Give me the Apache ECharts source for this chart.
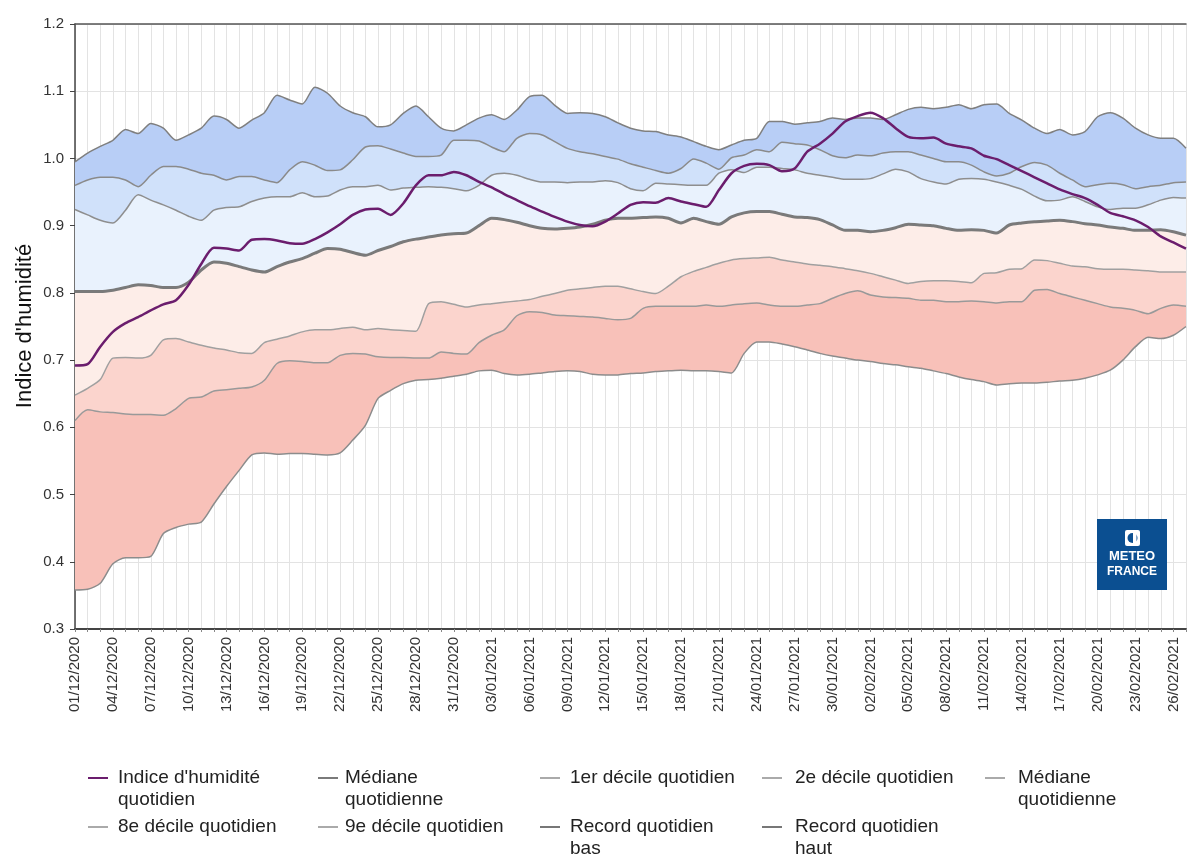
<!DOCTYPE html>
<html>
<head>
<meta charset="utf-8">
<script src="https://cdn.jsdelivr.net/npm/echarts@6/dist/echarts.min.js"></script>
<style>html,body{margin:0;padding:0;background:#fff}#c{width:1187px;height:857px}</style>
</head>
<body>
<div id="c"></div>
<script>
// Categories: daily dates 01/12/2020 .. 27/02/2021
const categories = (function(){
  const out = []; const d = new Date(Date.UTC(2020, 11, 1));
  for (let k = 0; k < 89; k++) {
    const dd = String(d.getUTCDate()).padStart(2,'0');
    const mm = String(d.getUTCMonth()+1).padStart(2,'0');
    out.push(dd + '/' + mm + '/' + d.getUTCFullYear());
    d.setUTCDate(d.getUTCDate()+1);
  }
  return out;
})();

const yTicks = [0.3, 0.4, 0.5, 0.6, 0.7, 0.8, 0.9, 1.0, 1.1, 1.2];

const indice = [0.692,0.694,0.72,0.742,0.755,0.764,0.774,0.783,0.789,0.812,0.843,0.867,0.866,0.863,0.879,0.88,0.878,0.874,0.873,0.88,0.89,0.902,
0.916,0.924,0.925,0.916,0.933,0.96,0.975,0.975,0.98,0.975,0.965,0.957,0.947,0.938,0.929,0.921,0.913,0.906,0.901,0.899,0.906,0.918,0.931,0.935,0.934,0.941,
0.936,0.932,0.928,0.953,0.978,0.989,0.992,0.99,0.981,0.985,1.01,1.022,1.037,1.055,1.063,1.068,1.06,1.045,1.032,1.03,1.031,1.022,1.018,1.015,1.004,0.999,0.99,0.981,0.972,0.963,0.954,0.947,0.941,0.931,0.919,0.914,0.908,0.898,0.884,0.875,0.866];

const recordHaut = [0.995,1.008,1.018,1.027,1.043,1.037,1.052,1.045,1.027,1.035,1.045,1.063,1.058,1.045,1.057,1.068,1.094,1.087,1.081,1.106,1.097,1.078,1.068,1.062,1.047,1.05,
1.067,1.078,1.062,1.045,1.041,1.05,1.06,1.065,1.058,1.072,1.092,1.094,1.079,1.067,1.068,1.067,1.062,1.053,1.045,1.041,1.04,1.035,1.032,1.025,1.018,1.013,1.02,1.027,1.03,1.055,
1.055,1.051,1.053,1.055,1.06,1.058,1.06,1.06,1.058,1.065,1.073,1.076,1.074,1.076,1.08,1.074,1.08,1.081,1.067,1.057,1.045,1.037,1.043,1.035,1.04,1.062,1.068,1.06,1.045,1.035,1.03,1.03,1.015];

const decile9 = [0.96,0.968,0.972,0.972,0.968,0.958,0.975,0.988,0.988,0.984,0.978,0.975,0.968,0.973,0.973,0.968,0.964,0.983,0.995,0.99,0.982,0.983,0.998,1.017,1.019,1.014,
1.008,1.003,1.003,1.005,1.027,1.027,1.026,1.017,1.01,1.03,1.037,1.035,1.025,1.015,1.01,1.007,1.003,0.999,0.992,0.987,0.982,
0.978,0.985,0.999,0.993,0.984,1.001,1.005,1.013,1.01,1.024,1.022,1.02,1.013,1.004,1.001,1.005,1.004,1.008,1.01,1.01,
1.005,1.0,0.995,0.995,0.99,0.98,0.974,0.978,0.988,0.994,0.99,0.978,0.968,0.958,0.961,0.963,0.961,0.955,0.958,0.96,0.964,0.965];

const decile8 = [0.924,0.916,0.908,0.904,0.923,0.946,0.938,0.931,0.923,0.914,0.908,0.923,0.927,0.928,0.936,0.941,0.943,0.943,0.949,0.943,0.944,0.953,0.958,0.958,0.96,0.953,
0.956,0.957,0.958,0.957,0.955,0.952,0.96,0.975,0.978,0.975,0.969,0.965,0.965,0.964,0.965,0.965,0.967,0.964,0.955,0.952,0.963,
0.962,0.961,0.96,0.96,0.978,0.983,0.979,0.987,0.987,0.985,0.983,0.978,0.975,0.972,0.969,0.969,0.97,0.977,0.984,0.98,
0.97,0.965,0.962,0.969,0.97,0.969,0.965,0.96,0.954,0.944,0.937,0.938,0.943,0.936,0.928,0.924,0.926,0.926,0.931,0.938,0.942,0.941];

const mediane = [0.802,0.802,0.802,0.804,0.808,0.812,0.811,0.808,0.808,0.816,0.834,0.846,0.844,0.839,0.834,0.831,0.839,0.846,0.851,0.859,0.866,0.865,0.86,0.856,
0.863,0.869,0.876,0.88,0.883,0.886,0.888,0.889,0.9,0.911,0.909,0.905,0.9,0.896,0.895,0.896,0.898,0.902,0.908,0.911,0.911,0.912,0.913,
0.911,0.904,0.911,0.906,0.902,0.913,0.919,0.921,0.921,0.917,0.913,0.912,0.909,0.901,0.893,0.893,0.891,0.893,0.897,0.902,
0.901,0.9,0.896,0.893,0.894,0.893,0.889,0.901,0.904,0.906,0.907,0.908,0.906,0.903,0.901,0.898,0.896,0.893,0.893,0.894,0.891,0.886];

const decile2 = [0.648,0.658,0.671,0.703,0.704,0.703,0.707,0.73,0.732,0.727,0.722,0.718,0.715,0.711,0.71,0.726,0.731,0.736,0.742,0.745,0.745,0.747,0.749,0.745,
0.747,0.745,0.744,0.743,0.784,0.787,0.783,0.779,0.782,0.784,0.786,0.788,0.79,0.795,0.799,0.804,0.806,0.808,0.81,0.81,0.806,0.802,0.799,0.81,0.824,0.832,0.838,0.844,0.849,0.851,0.852,0.853,
0.849,0.846,0.843,0.841,0.839,0.836,0.833,0.829,0.824,0.819,0.814,0.817,0.818,0.818,0.817,0.815,0.829,0.83,0.835,0.836,0.849,0.848,0.844,0.84,0.839,0.836,0.835,0.835,0.834,0.833,0.831,0.831,0.831];

const decile1 = [0.61,0.626,0.623,0.622,0.62,0.619,0.619,0.618,0.628,0.643,0.645,0.654,0.656,0.658,0.66,0.67,0.695,0.699,0.698,0.696,0.696,0.707,0.71,0.709,
0.705,0.704,0.704,0.703,0.703,0.712,0.71,0.709,0.726,0.737,0.745,0.766,0.772,0.771,0.767,0.766,0.765,0.764,0.762,0.76,0.762,0.777,0.78,0.78,0.78,0.78,0.782,0.78,0.782,0.784,0.785,0.782,
0.78,0.78,0.782,0.784,0.792,0.799,0.803,0.797,0.794,0.793,0.792,0.789,0.789,0.787,0.787,0.788,0.787,0.785,0.787,0.787,0.804,0.805,0.799,0.794,0.789,0.784,0.779,0.777,0.774,0.769,0.777,0.782,0.78];

const recordBas = [0.358,0.359,0.368,0.397,0.406,0.406,0.408,0.442,0.451,0.456,0.459,0.486,0.512,0.536,0.559,0.562,0.56,0.561,0.561,0.56,0.559,0.562,0.581,0.603,
0.643,0.655,0.665,0.67,0.671,0.673,0.676,0.679,0.684,0.685,0.68,0.678,0.679,0.681,0.683,0.684,0.683,0.679,0.678,0.678,0.68,0.681,0.683,0.684,0.685,0.684,0.684,0.683,0.681,0.71,0.727,0.727,
0.724,0.72,0.715,0.71,0.706,0.703,0.7,0.698,0.695,0.693,0.69,0.688,0.684,0.68,0.675,0.671,0.668,0.663,0.665,0.666,0.666,0.667,0.669,0.67,0.673,0.678,0.685,0.7,0.72,0.734,0.732,0.737,0.75];

// Names
const N_IND = "Indice d'humidité quotidien";
const N_MED = "Médiane quotidienne";
const N_D1 = "1er décile quotidien";
const N_D2 = "2e décile quotidien";
const N_MED2 = "Médiane quotidienne ";
const N_D8 = "8e décile quotidien";
const N_D9 = "9e décile quotidien";
const N_RB = "Record quotidien bas";
const N_RH = "Record quotidien haut";

const diff = (a, b) => a.map((v, i) => +(v - b[i]).toFixed(4));

const FONT = '"Liberation Sans", Arial, sans-serif';
function band(name, data, lineColor, fill, w) {
  return {
    name, type: 'line', stack: 'bands', stackStrategy: 'all', data,
    symbol: 'none', smooth: 0.25, color: lineColor,
    lineStyle: { color: lineColor, width: w || 1.5 },
    areaStyle: fill ? { color: fill, opacity: 1 } : undefined,
    emphasis: { disabled: true }, z: 2
  };
}

const series = [
  band(N_RB, recordBas, '#8c8c8c', null),
  band(N_D1, diff(decile1, recordBas), '#999999', '#f8c1b9'),
  band(N_D2, diff(decile2, decile1), '#a0a0a0', '#fbd4cd'),
  band(N_MED2, diff(mediane, decile2), '#aaaaaa', '#fdede8'),
  band(N_D8, diff(decile8, mediane), '#8e8e8e', '#e9f2fd'),
  band(N_D9, diff(decile9, decile8), '#8a8a8a', '#d0e1fa'),
  band(N_RH, diff(recordHaut, decile9), '#7f7f7f', '#b8cef6'),
  { name: N_MED, type: 'line', data: mediane, symbol: 'none', smooth: 0.25, color: '#7a7a7a',
    lineStyle: { color: '#7a7a7a', width: 3 }, z: 4, emphasis: { disabled: true } },
  { name: N_IND, type: 'line', data: indice, symbol: 'none', smooth: 0.25, color: '#6b1d6d',
    lineStyle: { color: '#6b1d6d', width: 2.5 }, z: 5, emphasis: { disabled: true } }
];

// Legend entries: first line in the legend, second line (if any) as extra text
const legendSpec = [
  { name: N_IND, first: "Indice d'humidité", second: "quotidien", color: '#6b1d6d', x: 88, tx: 118, row: 0 },
  { name: N_MED, first: "Médiane", second: "quotidienne", color: '#7a7a7a', x: 318, tx: 345, row: 0 },
  { name: N_D1, first: "1er décile quotidien", color: '#aaaaaa', x: 540, tx: 570, row: 0 },
  { name: N_D2, first: "2e décile quotidien", color: '#aaaaaa', x: 762, tx: 795, row: 0 },
  { name: N_MED2, first: "Médiane", second: "quotidienne", color: '#aaaaaa', x: 985, tx: 1018, row: 0 },
  { name: N_D8, first: "8e décile quotidien", color: '#aaaaaa', x: 88, tx: 118, row: 1 },
  { name: N_D9, first: "9e décile quotidien", color: '#aaaaaa', x: 318, tx: 345, row: 1 },
  { name: N_RB, first: "Record quotidien", second: "bas", color: '#777777', x: 540, tx: 570, row: 1 },
  { name: N_RH, first: "Record quotidien", second: "haut", color: '#777777', x: 762, tx: 795, row: 1 }
];
const rowY = [778, 827];
const LEG_FS = 19;

const legends = legendSpec.map(s => ({
  data: [{ name: s.name, itemStyle: { color: s.color } }],
  left: s.x, top: rowY[s.row] - 11, orient: 'horizontal', padding: 0,
  icon: 'rect', itemWidth: 20, itemHeight: 2, itemGap: 0,
  selectedMode: false,
  formatter: () => s.first,
  textStyle: { fontFamily: FONT, fontSize: LEG_FS, color: '#222', lineHeight: 22,
               padding: [0, 0, 0, Math.max(0, s.tx - s.x - 25)] }
}));

const secondLines = legendSpec.filter(s => s.second).map(s => ({
  type: 'text', x: s.tx, y: rowY[s.row] + 22, z: 20,
  style: { text: s.second, font: LEG_FS + 'px ' + FONT, fill: '#222', textAlign: 'left', textVerticalAlign: 'middle' }
}));

const option = {
  backgroundColor: '#fff',
  animation: false,
  legend: legends,
  grid: { left: 75, right: 1, top: 24, bottom: 228 },
  xAxis: [{
    type: 'category', data: categories, boundaryGap: false,
    axisLine: { lineStyle: { color: '#444', width: 2 } },
    axisTick: { show: true, interval: 0, length: 3, lineStyle: { color: '#888' } },
    axisLabel: { interval: 2, rotate: 90, fontFamily: FONT, fontSize: 15, color: '#333', margin: 8 },
    splitLine: { show: true, interval: 0, lineStyle: { color: '#e3e3e3', width: 1 } }
  }, {
    type: 'category', data: categories, boundaryGap: false, position: 'top',
    axisLine: { show: true, lineStyle: { color: '#555', width: 1.5 } },
    axisTick: { show: false }, axisLabel: { show: false }, splitLine: { show: false }
  }],
  yAxis: {
    type: 'value', min: yTicks[0], max: yTicks[yTicks.length-1], interval: 0.1,
    axisLine: { show: true, lineStyle: { color: '#444', width: 1.5 } },
    axisTick: { show: true, length: 5, lineStyle: { color: '#444' } },
    axisLabel: { fontFamily: FONT, fontSize: 15, color: '#333', margin: 11,
                 formatter: v => v.toFixed(1) },
    splitLine: { show: true, lineStyle: { color: '#e3e3e3', width: 1 } }
  },
  series,
  graphic: [
    { type: 'text', x: 25, y: 326, rotation: Math.PI / 2, z: 20,
      style: { text: "Indice d'humidité", font: '22px ' + FONT, fill: '#111', textAlign: 'center', textVerticalAlign: 'middle' } },
    { type: 'rect', x: 1097, y: 519, z: 100, shape: { x: 0, y: 0, width: 70, height: 71 }, style: { fill: '#0b4f91' } },
    { type: 'rect', x: 1097, y: 519, z: 101, shape: { x: 28, y: 11, width: 15, height: 16, r: 2 }, style: { fill: '#ffffff' } },
    { type: 'circle', x: 1097, y: 519, z: 102, shape: { cx: 35.5, cy: 19, r: 5 }, style: { fill: '#0b4f91' } },
    { type: 'rect', x: 1097, y: 519, z: 103, shape: { x: 36, y: 13, width: 3.5, height: 12 }, style: { fill: '#ffffff' } },
    { type: 'text', x: 1132, y: 556, z: 104, style: { text: 'METEO', font: 'bold 13px ' + FONT, fill: '#fff', textAlign: 'center', textVerticalAlign: 'middle' } },
    { type: 'text', x: 1132, y: 572, z: 104, style: { text: 'FRANCE', font: 'bold 12px ' + FONT, fill: '#fff', textAlign: 'center', textVerticalAlign: 'middle' } }
  ].concat(secondLines)
};

const chart = echarts.init(document.getElementById('c'), null, { renderer: 'canvas' });
chart.setOption(option);
</script>
</body>
</html>
